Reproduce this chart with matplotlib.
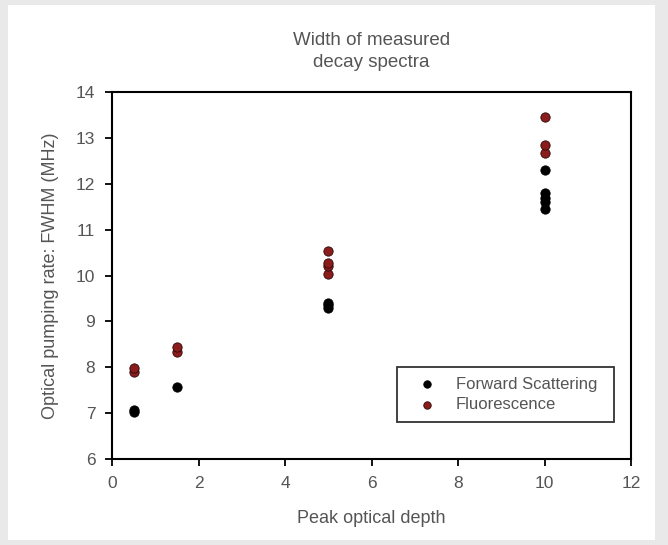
import numpy as np
import matplotlib; matplotlib.use("Agg")
import matplotlib.pyplot as plt
from matplotlib.patches import Rectangle

plt.rcParams["font.family"] = ["Liberation Sans", "DejaVu Sans"]

# peak optical depth for each measurement and the fitted FWHM (MHz)
fwd_depth = [0.5, 0.5, 1.5, 5, 5, 5, 10, 10, 10, 10, 10]
fwd_fwhm = [7.02, 7.07, 7.57, 9.3, 9.35, 9.4, 11.45, 11.6, 11.7, 11.8, 12.3]
flu_depth = [0.5, 0.5, 1.5, 1.5, 5, 5, 5, 5, 10, 10, 10]
flu_fwhm = [7.9, 7.98, 8.34, 8.44, 10.03, 10.2, 10.27, 10.54, 12.66, 12.85, 13.45]

TXT = "#555555"

fig = plt.figure(figsize=(6.68, 5.45), dpi=100)
fig.patch.set_facecolor("#e9e9e9")
# white panel inside the grey border
fig.patches.append(Rectangle((8 / 668, 5 / 545), 647 / 668, 535 / 545, transform=fig.transFigure,
                             facecolor="white", edgecolor="none", zorder=-10))

ax = fig.add_axes([112 / 668, 1 - 459 / 545, 519 / 668, 367 / 545])
ax.scatter(fwd_depth, fwd_fwhm, s=45, color="black", edgecolor="black", lw=0.6, zorder=3,
           label="Forward Scattering")
ax.scatter(flu_depth, flu_fwhm, s=45, color="#8b1c1c", edgecolor="#2a0a0a", lw=0.6, zorder=3,
           label="Fluorescence")

ax.set_xlim(0, 12); ax.set_ylim(6, 14)
ax.set_xticks(range(0, 13, 2)); ax.set_yticks(range(6, 15))
for s in ax.spines.values():
    s.set_linewidth(1.5)
ax.tick_params(direction="out", length=5, width=1.3, labelsize=12.5, labelcolor=TXT, pad=7)
ax.set_xlabel("Peak optical depth", fontsize=13, color=TXT, labelpad=14)
ax.set_ylabel("Optical pumping rate: FWHM (MHz)", fontsize=13, color=TXT, labelpad=12)
ax.set_title("Width of measured\ndecay spectra", fontsize=13.5, color=TXT, pad=18, linespacing=1.4)

leg = ax.legend(loc="lower left", bbox_to_anchor=(0.549, 0.101, 0.418, 0.161), mode="expand",
                borderaxespad=0, fontsize=12, frameon=True, fancybox=False, edgecolor="black",
                handlelength=2.4, handletextpad=0.55, borderpad=0.6, labelspacing=0.32,
                scatterpoints=1, markerscale=0.8)
leg.get_frame().set_linewidth(1.3)
for t in leg.get_texts():
    t.set_color(TXT)

fig.savefig("out.png", dpi=100, facecolor=fig.get_facecolor())
